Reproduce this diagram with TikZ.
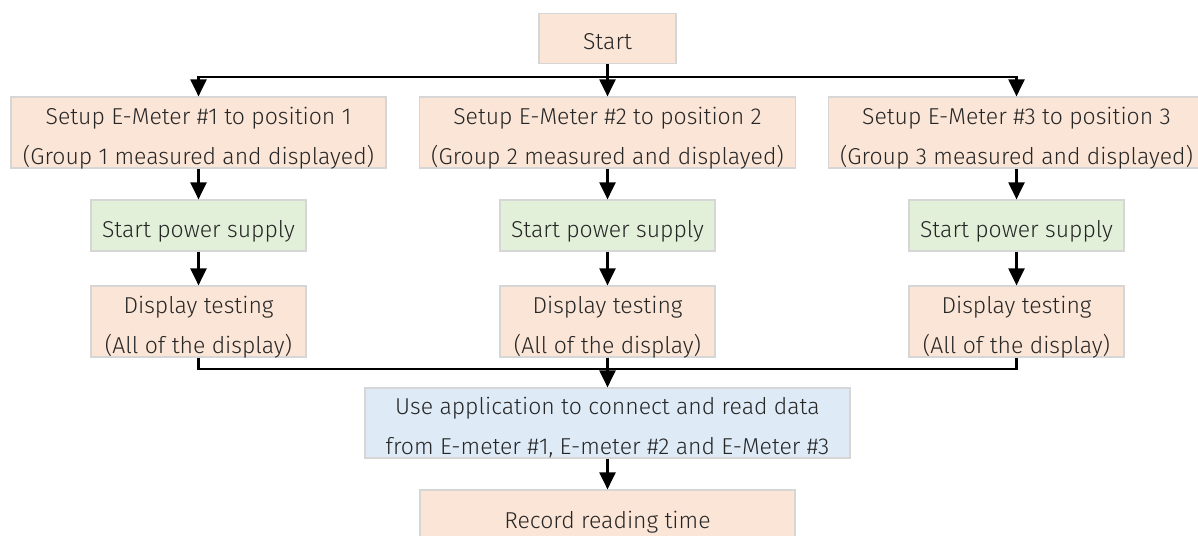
\documentclass[tikz,border=0pt]{standalone}
\usepackage{fontspec}
\setmainfont{Fira Sans Light}
\usetikzlibrary{arrows.meta}
\definecolor{peach}{HTML}{FBE5D6}
\definecolor{mint}{HTML}{E2F0D9}
\definecolor{sky}{HTML}{DEEBF7}
\definecolor{edge}{HTML}{D6D6D6}
\definecolor{ink}{HTML}{262626}
\newcommand{\ls}{\rule[-7pt]{0pt}{37pt}}
\tikzset{
  box/.style={draw=edge, line width=1.2pt, inner xsep=0pt, inner ysep=-3pt, align=center, text=ink,
    font=\fontsize{23}{40}\selectfont},
  pbox/.style={box, fill=peach},
  gbox/.style={box, fill=mint},
  bbox/.style={box, fill=sky},
  conn/.style={line width=2.2pt, black},
  arr/.style={conn, -{Triangle[length=17pt,width=16pt]}},
}
\begin{document}
\begin{tikzpicture}[x=1pt,y=-1pt]
\useasboundingbox (0,0) rectangle (1198,535);
\node[pbox, minimum width=137pt, minimum height=50pt] (start) at (607.5,38.5) {\ls Start\ls};
\node[pbox, minimum width=375pt, minimum height=71pt] (s1) at (198.5,132.5) {\ls Setup E-Meter \#1 to position 1\\(Group 1 measured and displayed)\ls};
\node[pbox, minimum width=376pt, minimum height=71pt] (s2) at (607.5,132.5) {\ls Setup E-Meter \#2 to position 2\\(Group 2 measured and displayed)\ls};
\node[pbox, minimum width=376pt, minimum height=71pt] (s3) at (1016.5,132.5) {\ls Setup E-Meter \#3 to position 3\\(Group 3 measured and displayed)\ls};
\node[gbox, minimum width=215pt, minimum height=51pt] (p1) at (198.5,225.5) {\ls Start power supply\ls};
\node[gbox, minimum width=215pt, minimum height=51pt] (p2) at (607.5,225.5) {\ls Start power supply\ls};
\node[gbox, minimum width=215pt, minimum height=51pt] (p3) at (1016.5,225.5) {\ls Start power supply\ls};
\node[pbox, minimum width=215pt, minimum height=71pt] (d1) at (198.5,321.5) {\ls Display testing\\(All of the display)\ls};
\node[pbox, minimum width=215pt, minimum height=71pt] (d2) at (607.5,321.5) {\ls Display testing\\(All of the display)\ls};
\node[pbox, minimum width=215pt, minimum height=71pt] (d3) at (1016.5,321.5) {\ls Display testing\\(All of the display)\ls};
\node[bbox, inner ysep=-3.5pt, minimum width=485pt, minimum height=70pt] (app) at (607.5,423) {\ls Use application to connect and read data\\from E-meter \#1, E-meter \#2 and E-Meter \#3\ls};
\node[pbox, minimum width=375pt, minimum height=53pt] (rec) at (607.5,516.5) {\ls Record reading time\ls};
\coordinate (tj) at (607.5,77);
\coordinate (bj) at (607.5,369);
\draw[arr] (start.south) -- (s2.north);
\draw[arr] (tj) -| (s1.north);
\draw[arr] (tj) -| (s3.north);
\draw[arr] (s1) -- (p1);
\draw[arr] (s2) -- (p2);
\draw[arr] (s3) -- (p3);
\draw[arr] (p1) -- (d1);
\draw[arr] (p2) -- (d2);
\draw[arr] (p3) -- (d3);
\draw[conn] (d1.south) |- (bj);
\draw[conn] (d3.south) |- (bj);
\draw[arr] (d2.south) -- (app.north);
\draw[arr] (app) -- (rec);
\end{tikzpicture}
\end{document}
